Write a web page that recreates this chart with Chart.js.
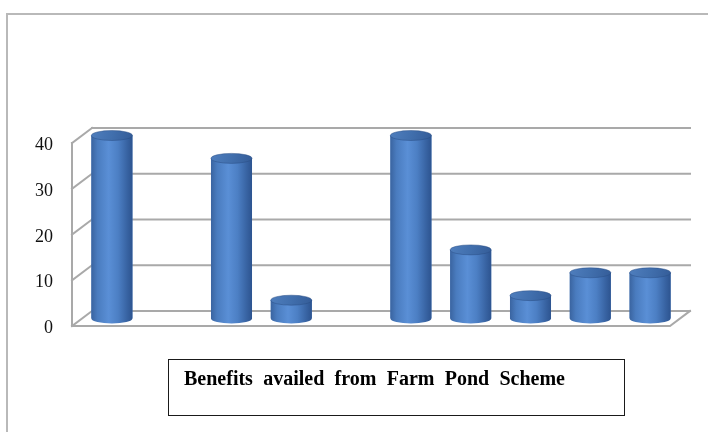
<!DOCTYPE html>
<html>
<head>
<meta charset="utf-8">
<script src="https://cdn.jsdelivr.net/npm/chart.js@4/dist/chart.umd.min.js"></script>
<style>
  html, body { margin: 0; padding: 0; background: #ffffff; }
  #wrap { width: 708px; height: 432px; }
</style>
</head>
<body>
<div id="wrap"><canvas id="chart" width="708" height="432"></canvas></div>
<script>
// Categories along the floor (no labels are printed under the bars)
const categories = ['1', '2', '3', '4', '5', '6', '7', '8', '9', '10'];
// Number of respondents for each benefit
const benefitValues = [40, 0, 35, 4, 0, 40, 15, 5, 10, 10];
// Value axis ticks
const yTicks = [0, 10, 20, 30, 40];
const seriesTitle = 'Benefits availed from Farm Pond Scheme';

// depth offset of the 3D box: bars sit at mid depth
const DEPTH = { dx: 10, dy: 7.5 };

const framePlugin = {
  id: 'frame3d',
  beforeDraw(chart) {
    const ctx = chart.ctx;
    ctx.save();
    ctx.fillStyle = '#ffffff';
    ctx.fillRect(0, 0, chart.width, chart.height);
    // outer frame (top and left edges)
    ctx.strokeStyle = '#b9b9b9';
    ctx.lineWidth = 2;
    ctx.beginPath();
    ctx.moveTo(7, chart.height);
    ctx.lineTo(7, 14);
    ctx.lineTo(chart.width, 14);
    ctx.stroke();
    ctx.restore();
  },
  beforeDatasetsDraw(chart) {
    const ctx = chart.ctx;
    const { left, right, top, bottom } = chart.chartArea;
    const ys = chart.scales.y;
    const { dx, dy } = DEPTH;
    ctx.save();
    ctx.strokeStyle = '#a9a9a9';
    ctx.lineWidth = 2;
    ctx.lineCap = 'square';
    ctx.beginPath();
    yTicks.forEach(v => {
      const py = ys.getPixelForValue(v);
      // back wall gridline
      ctx.moveTo(left + dx, py - dy);
      ctx.lineTo(right + dx, py - dy);
      // side wall diagonal
      ctx.moveTo(left - dx, py + dy);
      ctx.lineTo(left + dx, py - dy);
    });
    // front vertical edge of the side wall
    ctx.moveTo(left - dx, ys.getPixelForValue(0) + dy);
    ctx.lineTo(left - dx, ys.getPixelForValue(40) + dy);
    // floor front and right edges
    ctx.moveTo(left - dx, bottom + dy);
    ctx.lineTo(right - dx, bottom + dy);
    ctx.lineTo(right + dx, bottom - dy);
    ctx.stroke();
    ctx.restore();
  },
  afterDatasetsDraw(chart) {
    const ctx = chart.ctx;
    const meta = chart.getDatasetMeta(0);
    ctx.save();
    meta.data.forEach((bar, i) => {
      if (!benefitValues[i]) return;
      const { x, y, base, width } = bar.getProps(['x', 'y', 'base', 'width'], true);
      const rx = width / 2;
      const ry = 5;
      // cylinder body with a vertical highlight band
      const g = ctx.createLinearGradient(x - rx, 0, x + rx, 0);
      g.addColorStop(0, '#3a64a0');
      g.addColorStop(0.15, '#4a7cbf');
      g.addColorStop(0.42, '#5a8fd6');
      g.addColorStop(0.65, '#4c7fc4');
      g.addColorStop(0.88, '#3762a1');
      g.addColorStop(1, '#2d5490');
      ctx.fillStyle = g;
      ctx.beginPath();
      ctx.moveTo(x - rx, y);
      ctx.lineTo(x - rx, base);
      ctx.ellipse(x, base, rx, ry, 0, Math.PI, 0, true);
      ctx.lineTo(x + rx, y);
      ctx.closePath();
      ctx.fill();
      // top cap
      const c = ctx.createLinearGradient(x - rx, y - ry, x + rx, y + ry);
      c.addColorStop(0, '#4f7ebd');
      c.addColorStop(0.5, '#416fad');
      c.addColorStop(1, '#345c98');
      ctx.fillStyle = c;
      ctx.beginPath();
      ctx.ellipse(x, y, rx, ry, 0, 0, Math.PI * 2);
      ctx.fill();
      ctx.strokeStyle = 'rgba(40, 75, 130, 0.6)';
      ctx.lineWidth = 0.8;
      ctx.stroke();
    });
    ctx.restore();
  },
  afterDraw(chart) {
    const ctx = chart.ctx;
    ctx.save();
    // series caption box
    ctx.strokeStyle = '#1a1a1a';
    ctx.lineWidth = 1;
    ctx.strokeRect(168.5, 359.5, 456, 56);
    ctx.fillStyle = '#000000';
    ctx.font = 'bold 20px "Liberation Serif", "Times New Roman", serif';
    ctx.textBaseline = 'alphabetic';
    const words = seriesTitle.split(' ');
    const total = 381;
    const wordW = words.map(w => ctx.measureText(w).width);
    const sum = wordW.reduce((a, b) => a + b, 0);
    const gap = (total - sum) / (words.length - 1);
    let cx = 184;
    words.forEach((w, i) => {
      ctx.fillText(w, cx, 385);
      cx += wordW[i] + gap;
    });
    ctx.restore();
  }
};

new Chart(document.getElementById('chart'), {
  type: 'bar',
  data: {
    labels: categories,
    datasets: [{
      label: seriesTitle,
      data: benefitValues,
      backgroundColor: '#4a7dc0',
      borderWidth: 0,
      categoryPercentage: 1,
      barPercentage: 0.686
    }]
  },
  options: {
    responsive: false,
    animation: false,
    devicePixelRatio: 1,
    layout: { padding: { left: 22, right: 28, top: 135.5, bottom: 113.5 } },
    plugins: {
      legend: { display: false },
      tooltip: { enabled: false },
      title: { display: false }
    },
    scales: {
      x: { display: false },
      y: {
        min: 0,
        max: 40,
        afterFit(scale) { scale.width = 60; },
        afterBuildTicks(scale) { scale.ticks = yTicks.map(v => ({ value: v })); },
        grid: { display: false, drawTicks: false },
        border: { display: false },
        ticks: {
          padding: 29,
          labelOffset: 10,
          color: '#111111',
          font: { family: '"Liberation Serif", "Times New Roman", serif', size: 18 }
        }
      }
    }
  },
  plugins: [framePlugin]
});
</script>
</body>
</html>
